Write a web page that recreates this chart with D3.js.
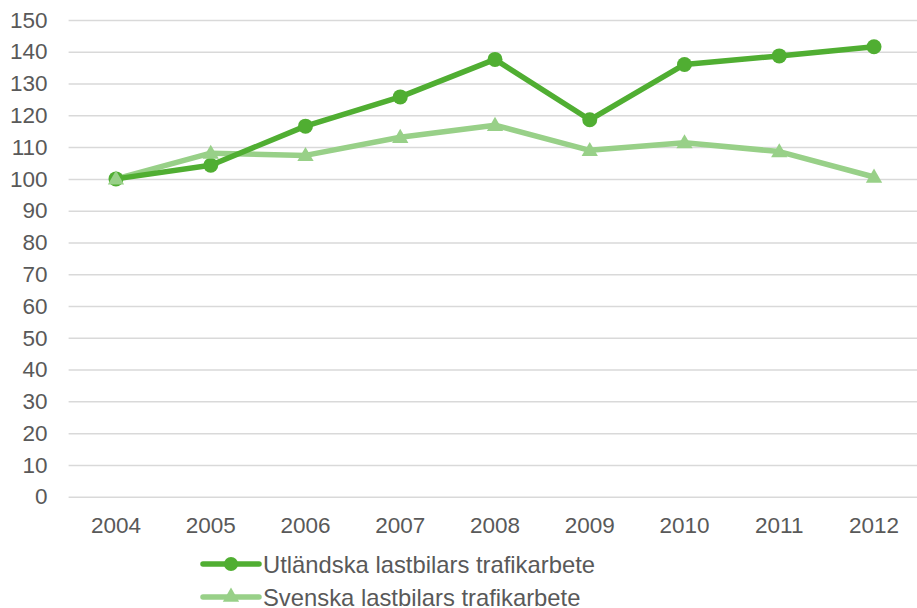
<!DOCTYPE html>
<html lang="sv">
<head>
<meta charset="utf-8">
<title>Trafikarbete</title>
<script src="https://d3js.org/d3.v7.min.js"></script>
<style>
  body { margin: 0; background: #fff; }
  text { font-family: "Liberation Sans", Arial, sans-serif; fill: #595959; }
</style>
</head>
<body>
<div id="chart"></div>
<script>
const years = ["2004", "2005", "2006", "2007", "2008", "2009", "2010", "2011", "2012"];
const utlandska = [100, 104.3, 116.6, 125.8, 137.6, 118.6, 136.0, 138.7, 141.6];
const svenska = [100, 108.1, 107.4, 113.1, 116.9, 109.0, 111.4, 108.6, 100.6];
const yTicks = [0, 10, 20, 30, 40, 50, 60, 70, 80, 90, 100, 110, 120, 130, 140, 150];

const width = 917, height = 608;
const plotLeft = 68.6, plotRight = 921.4, plotTop = 20, plotBottom = 496.7;

const darkGreen = "#50ae32", lightGreen = "#98d088";

const svg = d3.select("#chart").append("svg")
  .attr("width", width).attr("height", height);

const x = d3.scaleBand().domain(years).range([plotLeft, plotRight]);
const y = d3.scaleLinear().domain([0, 150]).range([plotBottom, plotTop]);

// gridlines + y labels
const yAxis = d3.axisLeft(y).tickValues(yTicks).tickSize(-(plotRight - plotLeft)).tickPadding(21);
svg.append("g")
  .attr("transform", "translate(" + plotLeft + ",0)")
  .call(yAxis)
  .call(g => g.select(".domain").remove())
  .call(g => g.selectAll("line").attr("stroke", "#d9d9d9").attr("stroke-width", 1.5))
  .call(g => g.selectAll("text").attr("fill", "#595959").style("font-size", "22.5px")
    .attr("font-family", "Liberation Sans, Arial, sans-serif"));

// x labels
const xAxis = d3.axisBottom(x).tickSize(0).tickPadding(20);
svg.append("g")
  .attr("transform", "translate(0," + plotBottom + ")")
  .call(xAxis)
  .call(g => g.select(".domain").remove())
  .call(g => g.selectAll("text").attr("fill", "#595959").style("font-size", "22.5px")
    .attr("font-family", "Liberation Sans, Arial, sans-serif"));

const cx = d => x(d) + x.bandwidth() / 2;
const line = d3.line().x((d, i) => cx(years[i])).y(d => y(d));

const tri = d3.symbol().type(d3.symbolTriangle).size(115);

// Svenska (drawn first, under)
svg.append("path").datum(svenska)
  .attr("d", line).attr("fill", "none")
  .attr("stroke", lightGreen).attr("stroke-width", 5.5).attr("stroke-linejoin", "round");

// Utländska
svg.append("path").datum(utlandska)
  .attr("d", line).attr("fill", "none")
  .attr("stroke", darkGreen).attr("stroke-width", 5.5).attr("stroke-linejoin", "round");

svg.append("g").selectAll("circle").data(utlandska).join("circle")
  .attr("cx", (d, i) => cx(years[i])).attr("cy", d => y(d))
  .attr("r", 7.5).attr("fill", darkGreen);

svg.append("g").selectAll("path").data(svenska).join("path")
  .attr("d", tri)
  .attr("transform", (d, i) => "translate(" + cx(years[i]) + "," + (y(d) + 1) + ")")
  .attr("fill", lightGreen);

// legend
const legend = [
  { name: "Utländska lastbilars trafikarbete", color: darkGreen, mark: "circle" },
  { name: "Svenska lastbilars trafikarbete", color: lightGreen, mark: "tri" }
];
const lg = svg.append("g").selectAll("g").data(legend).join("g")
  .attr("transform", (d, i) => "translate(0," + (564 + i * 33) + ")");
lg.append("line").attr("x1", 203).attr("x2", 259)
  .attr("stroke", d => d.color).attr("stroke-width", 5.5).attr("stroke-linecap", "round");
lg.filter(d => d.mark === "circle").append("circle")
  .attr("cx", 231).attr("r", 7).attr("fill", d => d.color);
lg.filter(d => d.mark === "tri").append("path")
  .attr("d", tri).attr("transform", "translate(231,0)").attr("fill", d => d.color);
lg.append("text").attr("x", 263).attr("y", 8.5)
  .style("font-size", "23.8px").text(d => d.name);
</script>
</body>
</html>
